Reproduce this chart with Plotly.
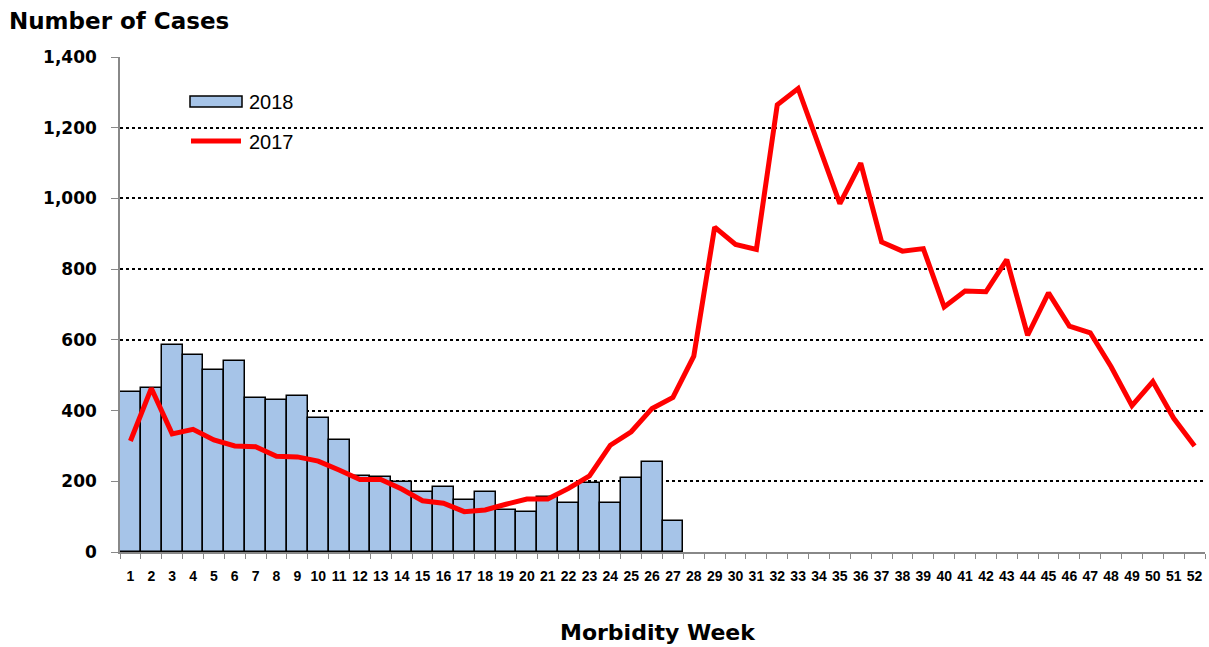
import plotly.graph_objects as go

weeks = [str(i) for i in range(1, 53)]

cases_2018 = [453, 464, 586, 556, 514, 539, 435, 430, 441, 379, 318, 215, 213, 197,
              170, 185, 147, 170, 119, 113, 155, 139, 196, 139, 208, 255, 88]

cases_2017 = [314, 463, 334, 347, 317, 300, 298, 271, 269, 257, 232, 205, 205, 178,
              145, 138, 114, 119, 135, 150, 150, 180, 215, 302, 340, 406, 437, 554,
              919, 870, 856, 1265, 1311, 1146, 985, 1100, 877, 851, 858, 693, 738, 736,
              827, 613, 733, 639, 620, 524, 414, 482, 378, 300]

y_ticks = [0, 200, 400, 600, 800, 1000, 1200, 1400]
y_tick_text = ["0", "200", "400", "600", "800", "1,000", "1,200", "1,400"]

BAR_COLOR = "#A6C4E8"
LINE_COLOR = "#FF0000"

# plot area in pixels: x 120..1205, y 57..552
L, R, T, B = 120, 1205, 57, 552
def px(x):
    return (x - L) / (R - L)
def py(y):
    return (B - y) / (B - T)

fig = go.Figure()
fig.add_trace(go.Bar(
    x=weeks[:len(cases_2018)], y=cases_2018, name="2018",
    marker=dict(color=BAR_COLOR, line=dict(color="black", width=1.5)),
))
fig.add_trace(go.Scatter(
    x=weeks, y=cases_2017, name="2017", mode="lines",
    line=dict(color=LINE_COLOR, width=5),
))

ARIAL = "Arial, Liberation Sans, sans-serif"
WIDE = "DejaVu Sans, Verdana, sans-serif"

fig.update_layout(
    template="none",
    width=1209, height=647,
    margin=dict(l=L, r=1209 - R, t=T, b=647 - B),
    paper_bgcolor="white", plot_bgcolor="white",
    bargap=0,
    font=dict(family=ARIAL, color="black"),
    showlegend=False,
    xaxis=dict(
        type="category", categoryorder="array", categoryarray=weeks,
        range=[-0.5, 51.5], automargin=False,
        showline=True, linecolor="#888888", linewidth=1.5,
        ticks="outside", tickson="boundaries", ticklen=5, tickcolor="#888888",
        tickangle=0, ticklabelstandoff=10,
        tickfont=dict(size=14, family=ARIAL, weight="bold"),
        showgrid=False, zeroline=False,
    ),
    yaxis=dict(
        range=[0, 1400], tickvals=y_ticks, ticktext=y_tick_text, automargin=False,
        showline=True, linecolor="#888888", linewidth=1.5,
        ticks="outside", ticklen=7, tickcolor="#888888",
        ticklabelstandoff=11,
        tickfont=dict(size=17, family=WIDE, weight="bold"),
        showgrid=True, gridcolor="black", griddash="dot", gridwidth=1.5,
        zeroline=False,
    ),
    shapes=[
        dict(type="rect", xref="paper", yref="paper",
             x0=px(190), x1=px(242), y0=py(107), y1=py(96),
             fillcolor=BAR_COLOR, line=dict(color="black", width=1.5)),
        dict(type="line", xref="paper", yref="paper",
             x0=px(191), x1=px(241), y0=py(141), y1=py(141),
             line=dict(color=LINE_COLOR, width=5)),
    ],
    annotations=[
        dict(text="2018", xref="paper", yref="paper", x=px(247), y=py(102),
             xanchor="left", yanchor="middle", showarrow=False,
             font=dict(size=20, family=ARIAL)),
        dict(text="2017", xref="paper", yref="paper", x=px(247), y=py(142),
             xanchor="left", yanchor="middle", showarrow=False,
             font=dict(size=20, family=ARIAL)),
        dict(text="<b>Number of Cases</b>", xref="paper", yref="paper",
             x=px(7), y=py(21), xanchor="left", yanchor="middle",
             showarrow=False, font=dict(size=23, family=WIDE)),
        dict(text="<b>Morbidity Week</b>", xref="paper", yref="paper",
             x=px(658), y=py(632), xanchor="center", yanchor="middle",
             showarrow=False, font=dict(size=22, family=WIDE)),
    ],
)

fig.write_html("out.html", config={"displayModeBar": False},
               post_script="document.body.style.margin='0px';")
